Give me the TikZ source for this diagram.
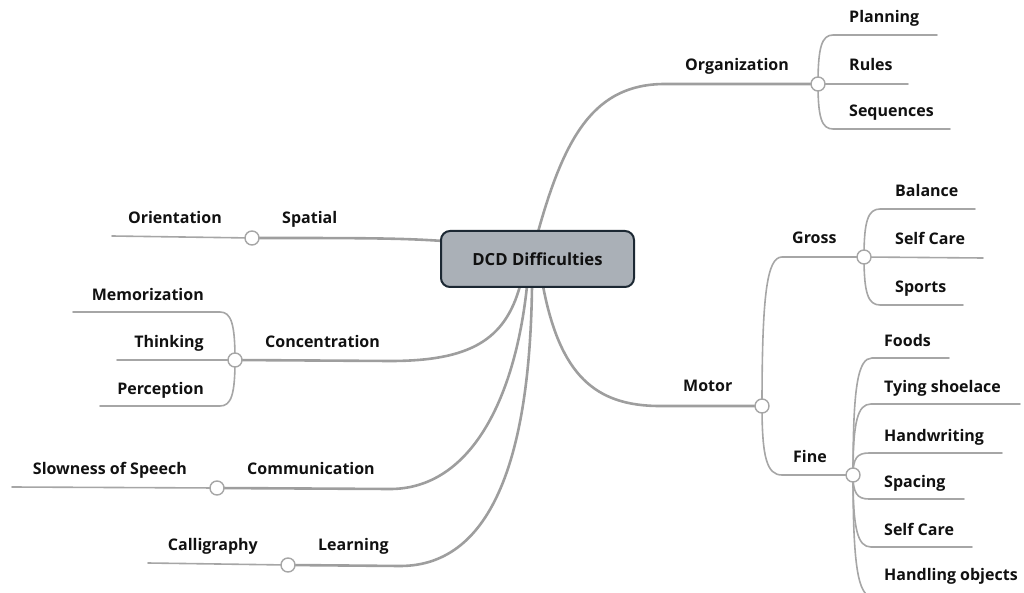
\documentclass[tikz,border=0pt]{standalone}
\usepackage{fontspec}
\setmainfont{Open Sans}
\usetikzlibrary{calc}
\definecolor{branchgray}{HTML}{9E9E9E}
\definecolor{twiggray}{HTML}{A6A6A6}
\definecolor{rootfill}{HTML}{AAB0B7}
\definecolor{rootedge}{HTML}{1C2833}
\definecolor{ink}{HTML}{111111}
\begin{document}
\begin{tikzpicture}[x=1pt,y=-1pt,
  branch/.style={draw=branchgray, line width=2.6pt, line cap=round},
  twig/.style={draw=twiggray, line width=1.6pt, line cap=round},
  kid/.style={twig, to path={.. controls ($(\tikztostart)!0.75!(\tikztostart|-\tikztotarget)$) and ($(\tikztostart|-\tikztotarget)!0.25!(\tikztotarget)$) .. (\tikztotarget)}},
  knot/.style={circle, draw=twiggray, line width=1.4pt, fill=white, minimum size=14pt, inner sep=0pt},
  lbl/.style={font=\fontsize{16}{19}\selectfont\bfseries, text=ink, inner sep=0pt},
  rootbox/.style={draw=rootedge, line width=2pt, fill=rootfill, rounded corners=9pt,
    minimum width=193pt, minimum height=56pt, inner sep=0pt,
    font=\fontsize{16.7}{20}\selectfont\bfseries, text=ink}
]
\useasboundingbox (0,0) rectangle (1024,593);
\clip (0,0) rectangle (1024,593);

% ---- hubs (circles) ----
\coordinate (cOrgP) at (818,84);
\coordinate (cMotP) at (762,406);
\coordinate (cGroP) at (864,257);
\coordinate (cFinP) at (853,475);
\coordinate (cSpaP) at (252,238);
\coordinate (cConP) at (235,360);
\coordinate (cComP) at (217,488);
\coordinate (cLeaP) at (288,565);

% roots of the main branches on the central box
\coordinate (rOrg) at (538,232);
\coordinate (rMot) at (543,286);
\coordinate (rSpa) at (443,241);
\coordinate (rCon) at (520,286);
\coordinate (rCom) at (527,286);
\coordinate (rLea) at (532,286);

% where the main branches turn horizontal
\coordinate (kOrg) at (665,84);
\coordinate (kMot) at (660,406);
\coordinate (kCon) at (390,361);
\coordinate (kCom) at (390,489);
\coordinate (kLea) at (400,566);

% ---- main branches ----
\draw[branch] (rOrg) .. controls (565,135) and (595,84) .. (kOrg) -- (cOrgP);
\draw[branch] (rMot) .. controls (560,375) and (595,406) .. (kMot) -- (cMotP);
\draw[branch] (rSpa) .. controls (400,238) and (360,238) .. (cSpaP);
\draw[branch] (rCon) .. controls (505,340) and (470,361) .. (kCon) -- (cConP);
\draw[branch] (rCom) .. controls (515,400) and (470,489) .. (kCom) -- (cComP);
\draw[branch] (rLea) .. controls (530,450) and (495,566) .. (kLea) -- (cLeaP);

% ---- Organization ----
\coordinate (plS) at (833,35);  \coordinate (plE) at (937,35);
\coordinate (ruE) at (908,84);
\coordinate (sqS) at (833,129); \coordinate (sqE) at (950,129);
\draw[kid] (cOrgP) to (plS) -- (plE);
\draw[twig] (cOrgP) -- (ruE);
\draw[kid] (cOrgP) to (sqS) -- (sqE);

% ---- Motor ----
\coordinate (grS) at (782,257);
\coordinate (fiS) at (782,475);
\draw[kid] (cMotP) to (grS) -- (cGroP);
\draw[kid] (cMotP) to (fiS) -- (cFinP);

\coordinate (baS) at (880,209); \coordinate (baE) at (975,209);
\coordinate (scE) at (983,258);
\coordinate (spS) at (880,305); \coordinate (spE) at (963,305);
\draw[kid] (cGroP) to (baS) -- (baE);
\draw[twig] (cGroP) -- (scE);
\draw[kid] (cGroP) to (spS) -- (spE);

\coordinate (foS) at (872,358); \coordinate (foE) at (949,358);
\coordinate (tyS) at (871,404); \coordinate (tyE) at (1020,404);
\coordinate (haS) at (869,453); \coordinate (haE) at (1002,453);
\coordinate (paS) at (869,499); \coordinate (paE) at (964,499);
\coordinate (fcS) at (871,547); \coordinate (fcE) at (972,547);
\coordinate (hoS) at (873,597); \coordinate (hoE) at (1020,597);
\draw[kid] (cFinP) to (foS) -- (foE);
\draw[kid] (cFinP) to (tyS) -- (tyE);
\draw[kid] (cFinP) to (haS) -- (haE);
\draw[kid] (cFinP) to (paS) -- (paE);
\draw[kid] (cFinP) to (fcS) -- (fcE);
\draw[kid] (cFinP) to (hoS) -- (hoE);

% ---- Spatial ----
\coordinate (orE) at (112,236);
\draw[twig] (cSpaP) -- (orE);

% ---- Concentration ----
\coordinate (meS) at (220,312); \coordinate (meE) at (73,312);
\coordinate (thE) at (117,360);
\coordinate (peS) at (220,406); \coordinate (peE) at (100,406);
\draw[kid] (cConP) to (meS) -- (meE);
\draw[twig] (cConP) -- (thE);
\draw[kid] (cConP) to (peS) -- (peE);

% ---- Communication / Learning ----
\coordinate (slE) at (12,487);
\draw[twig] (cComP) -- (slE);
\coordinate (caE) at (148,563);
\draw[twig] (cLeaP) -- (caE);

% ---- hub circles ----
\foreach \h in {Org,Mot,Gro,Fin,Spa,Con,Com,Lea}
  \node[knot] (c\h) at (c\h P) {};

% ---- central topic ----
\node[rootbox] (root) at (537.5,259) {DCD Difficulties};

% ---- labels ----
\node[lbl, anchor=base west] (tOrg) at (685,71) {Organization};
\node[lbl, anchor=base west] (tPla) at (849,23) {Planning};
\node[lbl, anchor=base west] (tRul) at (849,71) {Rules};
\node[lbl, anchor=base west] (tSeq) at (849,117) {Sequences};

\node[lbl, anchor=base west] (tMot) at (683,391) {Motor};
\node[lbl, anchor=base west] (tGro) at (792,244) {Gross};
\node[lbl, anchor=base west] (tBal) at (895,197) {Balance};
\node[lbl, anchor=base west] (tSc1) at (895,245) {Self Care};
\node[lbl, anchor=base west] (tSpo) at (895,293) {Sports};
\node[lbl, anchor=base west] (tFin) at (793,462) {Fine};
\node[lbl, anchor=base west] (tFoo) at (884,346) {Foods};
\node[lbl, anchor=base west] (tTyi) at (884,392) {Tying shoelace};
\node[lbl, anchor=base west] (tHan) at (884,441) {Handwriting};
\node[lbl, anchor=base west] (tSpc) at (884,487) {Spacing};
\node[lbl, anchor=base west] (tSc2) at (884,535) {Self Care};
\node[lbl, anchor=base west] (tHob) at (884,580) {Handling objects};

\node[lbl, anchor=base west] (tSpa) at (282,224) {Spatial};
\node[lbl, anchor=base east] (tOri) at (222,224) {Orientation};
\node[lbl, anchor=base west] (tCon) at (265,347) {Concentration};
\node[lbl, anchor=base east] (tMem) at (204,300) {Memorization};
\node[lbl, anchor=base east] (tThi) at (204,347) {Thinking};
\node[lbl, anchor=base east] (tPer) at (204,394) {Perception};
\node[lbl, anchor=base west] (tCom) at (247,474) {Communication};
\node[lbl, anchor=base east] (tSlo) at (187,474) {Slowness of Speech};
\node[lbl, anchor=base west] (tLea) at (318,550) {Learning};
\node[lbl, anchor=base east] (tCal) at (258,550) {Calligraphy};
\end{tikzpicture}
\end{document}
